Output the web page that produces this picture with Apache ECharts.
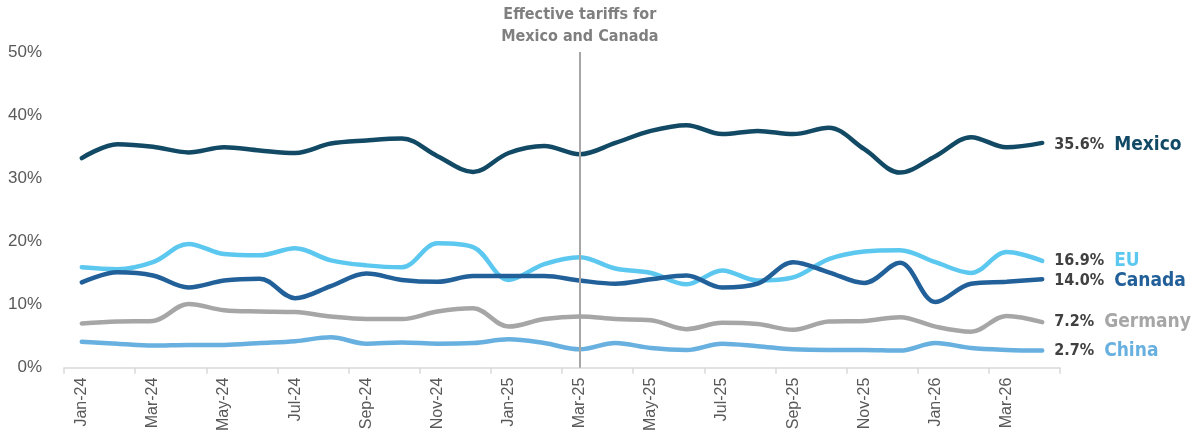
<!DOCTYPE html>
<html>
<head>
<meta charset="utf-8">
<script src="https://cdn.jsdelivr.net/npm/echarts@6/dist/echarts.min.js"></script>
<style>
  html, body { margin: 0; padding: 0; background: #fff; }
  #chart { width: 1201px; height: 434px; }
</style>
</head>
<body>
<div id="chart"></div>
<script>
// Monthly effective tariff rates by trading partner
const months = ['Jan-24','Feb-24','Mar-24','Apr-24','May-24','Jun-24','Jul-24','Aug-24','Sep-24','Oct-24','Nov-24','Dec-24',
  'Jan-25','Feb-25','Mar-25','Apr-25','May-25','Jun-25','Jul-25','Aug-25','Sep-25','Oct-25','Nov-25','Dec-25',
  'Jan-26','Feb-26','Mar-26','Apr-26'];

const mexico  = [33.2,35.4,35.0,34.1,34.9,34.4,34.0,35.5,36.0,36.3,33.5,31.0,34.0,35.1,33.8,35.6,37.5,38.4,37.0,37.5,37.0,38.0,34.6,30.9,33.5,36.5,34.9,35.6];
const eu      = [15.9,15.6,16.7,19.6,18.0,17.8,18.9,17.0,16.2,15.9,19.7,19.1,13.9,16.4,17.5,15.7,15.0,13.2,15.4,13.8,14.3,17.2,18.4,18.6,16.7,15.0,18.3,16.9];
const canada  = [13.5,15.1,14.6,12.7,13.8,14.1,11.0,12.9,14.9,13.9,13.6,14.5,14.5,14.5,13.8,13.3,14.0,14.6,12.7,13.3,16.7,15.1,13.4,16.6,10.4,13.3,13.6,14.0];
const germany = [7.0,7.3,7.4,10.1,9.1,8.9,8.8,8.1,7.7,7.7,8.9,9.4,6.5,7.7,8.1,7.7,7.5,6.1,7.1,6.9,6.0,7.3,7.4,8.0,6.5,5.7,8.2,7.2];
const china   = [4.1,3.8,3.5,3.6,3.6,3.9,4.2,4.8,3.8,4.0,3.8,3.9,4.5,3.9,2.9,3.9,3.1,2.8,3.8,3.4,2.9,2.8,2.8,2.7,3.9,3.1,2.8,2.7];

const yTicks = [0, 10, 20, 30, 40, 50];
const eventMonth = 'Mar-25';
const eventText = 'Effective tariffs for\nMexico and Canada';

const condensed = '"DejaVu Sans Condensed", "Roboto", sans-serif';
const regular = '"Liberation Sans", "Noto Sans", sans-serif';

function makeSeries(name, data, color, offsetY) {
  return {
    name: name,
    type: 'line',
    data: data,
    smooth: 0.35,
    symbol: 'none',
    lineStyle: { color: color, width: 4.5, cap: 'round' },
    endLabel: {
      show: true,
      distance: 4,
      offset: [8, offsetY || 0],
      formatter: function (p) {
        return '{v|' + p.value.toFixed(1) + '%}{n|' + name + '}';
      },
      rich: {
        v: { fontFamily: condensed, fontWeight: 'bold', fontSize: 16, color: '#404040' },
        n: { fontFamily: condensed, fontWeight: 'bold', fontSize: 19, color: color, padding: [0, 0, 0, 10] }
      }
    }
  };
}

const chart = echarts.init(document.getElementById('chart'), null, { renderer: 'canvas' });

const series = [
  makeSeries('Mexico', mexico, '#124A66', 2),
  makeSeries('EU', eu, '#5CC8F0', 0),
  makeSeries('Canada', canada, '#22609A', 2),
  makeSeries('Germany', germany, '#A6A6A6', 0),
  makeSeries('China', china, '#68B0DF', 0)
];

series[0].markLine = {
  silent: true,
  symbol: 'none',
  lineStyle: { color: '#A6A6A6', width: 2, type: 'solid' },
  label: {
    show: true,
    position: 'end',
    formatter: eventText,
    fontFamily: condensed,
    fontWeight: 'bold',
    fontSize: 16,
    lineHeight: 22,
    color: '#7F7F7F',
    distance: 4
  },
  data: [{ xAxis: eventMonth }]
};

chart.setOption({
  animation: false,
  backgroundColor: '#ffffff',
  grid: { left: 64, right: 141, top: 52, bottom: 66, containLabel: false },
  xAxis: {
    type: 'category',
    data: months,
    boundaryGap: true,
    axisLine: { lineStyle: { color: '#D9D9D9', width: 1.5 } },
    axisTick: { show: true, interval: 1, length: 6, lineStyle: { color: '#D9D9D9', width: 1.5 } },
    axisLabel: {
      interval: 1,
      rotate: 90,
      margin: 10,
      color: '#595959',
      fontFamily: regular,
      fontSize: 16
    },
    splitLine: { show: false }
  },
  yAxis: {
    type: 'value',
    min: yTicks[0],
    max: yTicks[yTicks.length - 1],
    interval: 10,
    axisLine: { show: false },
    axisTick: { show: false },
    splitLine: { show: false },
    axisLabel: {
      formatter: '{value}%',
      margin: 22,
      color: '#595959',
      fontFamily: regular,
      fontSize: 17
    }
  },
  series: series
});
</script>
</body>
</html>
